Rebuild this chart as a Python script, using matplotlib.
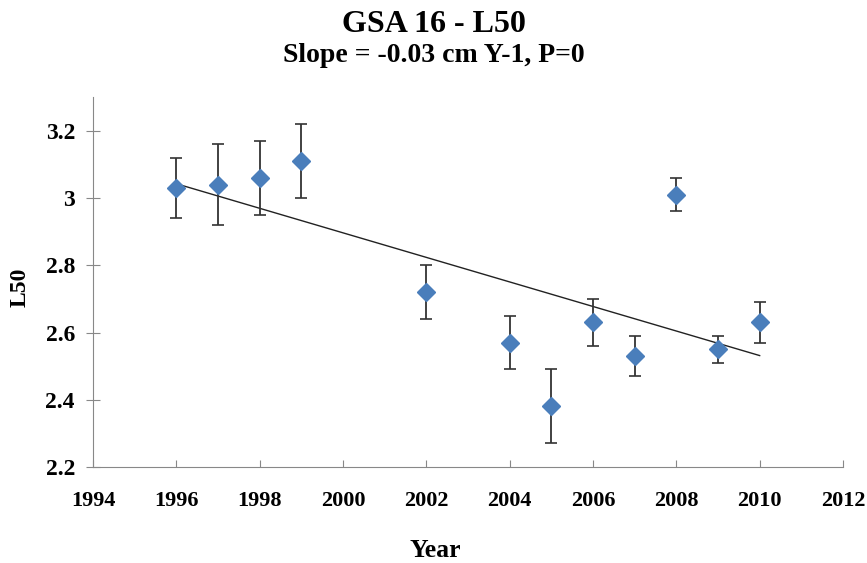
import matplotlib
matplotlib.use('Agg')
import matplotlib.pyplot as plt
import numpy as np

years = [1996, 1997, 1998, 1999, 2002, 2004, 2005, 2006, 2007, 2008, 2009, 2010]
l50 = [3.03, 3.04, 3.06, 3.11, 2.72, 2.57, 2.38, 2.63, 2.53, 3.01, 2.55, 2.63]
upper = [3.12, 3.16, 3.17, 3.22, 2.80, 2.65, 2.49, 2.70, 2.59, 3.06, 2.59, 2.69]
lower = [2.94, 2.92, 2.95, 3.00, 2.64, 2.49, 2.27, 2.56, 2.47, 2.96, 2.51, 2.57]

title = 'GSA 16 - L50'
subtitle = 'Slope = -0.03 cm Y-1, P=0'

plt.rcParams['font.family'] = ['Liberation Serif', 'DejaVu Serif']
plt.rcParams['font.weight'] = 'bold'

x = np.array(years)
y = np.array(l50)
yerr = [y - np.array(lower), np.array(upper) - y]

fig = plt.figure(figsize=(8.67, 5.63), dpi=100)
ax = fig.add_axes([0.1073, 0.1705, 0.865, 0.657])

# trend line fitted on the points
slope, intercept = np.polyfit(x, y, 1)
ax.plot(x[[0, -1]], slope * x[[0, -1]] + intercept, color='#222222', lw=1.0, zorder=1)

ax.errorbar(x, y, yerr=yerr, fmt='none', ecolor='#333333', elinewidth=1.3,
            capsize=4, capthick=1.2, zorder=2)
ax.plot(x, y, 'D', color='#4a7ebb', markersize=9.5, zorder=3)

ax.set_xlim(1994, 2012)
ax.set_ylim(2.2, 3.3)
ax.set_xticks(range(1994, 2013, 2))
ax.set_yticks([2.2, 2.4, 2.6, 2.8, 3.0, 3.2])
ax.set_yticklabels(['2.2', '2.4', '2.6', '2.8', '3', '3.2'])

for s in ['top', 'right']:
    ax.spines[s].set_visible(False)
for s in ['left', 'bottom']:
    ax.spines[s].set_color('#888888')
ax.tick_params(axis='y', direction='inout', length=10, color='#888888', labelsize=17, pad=8)
ax.tick_params(axis='x', direction='in', length=5, color='#888888', labelsize=16, pad=17)

fig.text(0.502, 0.0107, 'Year', ha='center', va='baseline', fontsize=18.5, fontweight='bold')
fig.text(0.023, 0.49, 'L50', ha='center', va='center', rotation=90, fontsize=17, fontweight='bold')

fig.text(0.5, 0.943, title, ha='center', va='baseline', fontsize=23, fontweight='bold')
fig.text(0.5, 0.89, subtitle, ha='center', va='baseline', fontsize=20, fontweight='bold')

fig.savefig('out.png', dpi=100)
